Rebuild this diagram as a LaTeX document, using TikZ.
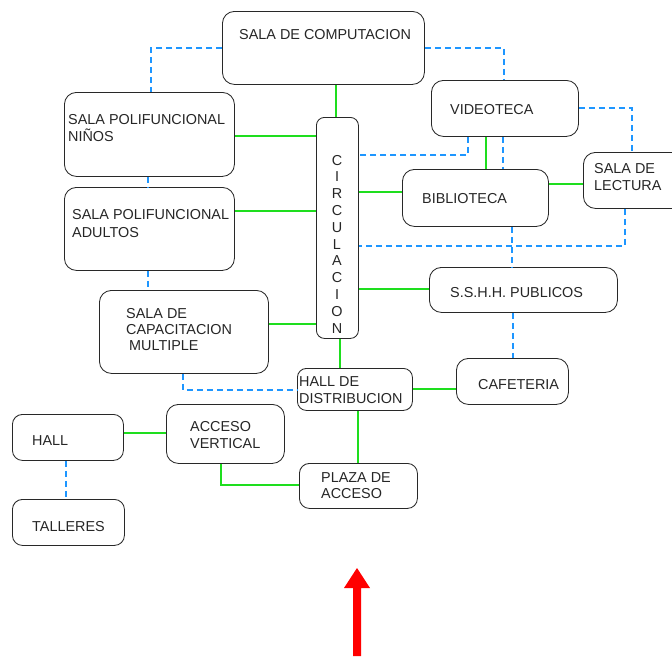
\documentclass[tikz,border=0pt]{standalone}
\usepackage{fontspec}
\setmainfont{Liberation Sans}
\definecolor{lgreen}{RGB}{30,222,30}
\definecolor{lblue}{RGB}{30,150,255}
\definecolor{bord}{RGB}{40,40,40}
\definecolor{ared}{RGB}{255,0,0}
\begin{document}
\begin{tikzpicture}[x=1pt,y=-1pt,
  box/.style={draw=bord,line width=0.85pt,rounded corners=12pt,anchor=north west,inner sep=0pt},
  lbl/.style={anchor=base west,inner sep=0pt,font=\fontsize{14.4}{16}\selectfont,text=black!85},
  clbl/.style={anchor=base,inner sep=0pt,font=\fontsize{14.4}{16}\selectfont,text=black!85},
  gl/.style={draw=lgreen,line width=2pt},
  bl/.style={draw=lblue,line width=2pt,dash pattern=on 6pt off 4pt}]
\useasboundingbox (0,0) rectangle (672,656);
% boxes
\node[box,minimum width=202pt,minimum height=73pt] (comp) at (222,11) {};
\node[box,minimum width=170pt,minimum height=84pt] (ninos) at (64,92) {};
\node[box,minimum width=170pt,minimum height=83pt] (adul) at (64,187) {};
\node[box,minimum width=169pt,minimum height=83pt] (capac) at (99,290) {};
\node[box,rounded corners=8pt,minimum width=42pt,minimum height=221pt] (circ) at (316,117) {};
\node[box,minimum width=147pt,minimum height=56pt] (video) at (431,80) {};
\node[box,minimum width=110pt,minimum height=56pt] (lect) at (583,152) {};
\node[box,minimum width=146pt,minimum height=57pt] (biblio) at (402,169) {};
\node[box,minimum width=188pt,minimum height=45pt] (sshh) at (429,267) {};
\node[box,minimum width=112pt,minimum height=46pt] (cafe) at (456,358) {};
\node[box,rounded corners=9pt,minimum width=115pt,minimum height=42pt] (halld) at (297,368) {};
\node[box,rounded corners=10pt,minimum width=111pt,minimum height=46pt] (hall) at (12,414) {};
\node[box,minimum width=118pt,minimum height=59pt] (acc) at (166,404) {};
\node[box,rounded corners=10pt,minimum width=118pt,minimum height=45pt] (plaza) at (299,463) {};
\node[box,rounded corners=10pt,minimum width=112pt,minimum height=46pt] (tall) at (12,499) {};
% texts
\node[lbl] (t1) at (239,39) {SALA DE COMPUTACION};
\node[lbl] (t2) at (68,124) {SALA POLIFUNCIONAL};
\node[lbl] (t3) at (68,141) {NIÑOS};
\node[lbl] (t4) at (72,219) {SALA POLIFUNCIONAL};
\node[lbl] (t5) at (72,237) {ADULTOS};
\node[lbl] (t6) at (126,318) {SALA DE};
\node[lbl] (t7) at (126,334) {CAPACITACION};
\node[lbl] (t8) at (129,350) {MULTIPLE};
\node[lbl] (t9) at (450,114) {VIDEOTECA};
\node[lbl] (t10) at (594,173) {SALA DE};
\node[lbl] (t11) at (594,190) {LECTURA};
\node[lbl] (t12) at (422,203) {BIBLIOTECA};
\node[lbl] (t13) at (450,297) {S.S.H.H. PUBLICOS};
\node[lbl] (t14) at (478,389) {CAFETERIA};
\node[lbl] (t15) at (299,386) {HALL DE};
\node[lbl] (t16) at (299,403) {DISTRIBUCION};
\node[lbl] (t17) at (32,445) {HALL};
\node[lbl] (t18) at (190,431) {ACCESO};
\node[lbl] (t19) at (190,448) {VERTICAL};
\node[lbl] (t20) at (321,482) {PLAZA DE};
\node[lbl] (t21) at (321,498) {ACCESO};
\node[lbl] (t22) at (32,531) {TALLERES};
\foreach \l [count=\i from 0] in {C,I,R,C,U,L,A,C,I,O,N}
  \node[clbl] (c\i) at (337,165+16.8*\i) {\l};
% green connectors
\draw[gl] (comp.south -| 336,0) -- (circ.north -| 336,0);
\draw[gl] (ninos.east |- 0,136) -- (circ.west |- 0,136);
\draw[gl] (adul.east |- 0,211) -- (circ.west |- 0,211);
\draw[gl] (capac.east |- 0,324) -- (circ.west |- 0,324);
\draw[gl] (circ.east |- 0,192) -- (biblio.west |- 0,192);
\draw[gl] (video.south -| 486,0) -- (biblio.north -| 486,0);
\draw[gl] (biblio.east |- 0,184) -- (lect.west |- 0,184);
\draw[gl] (circ.east |- 0,289) -- (sshh.west |- 0,289);
\draw[gl] (circ.south -| 340,0) -- (halld.north -| 340,0);
\draw[gl] (halld.east |- 0,389) -- (cafe.west |- 0,389);
\draw[gl] (halld.south -| 358,0) -- (plaza.north -| 358,0);
\draw[gl] (hall.east |- 0,433) -- (acc.west |- 0,433);
\draw[gl] (acc.south -| 221,0) |- (plaza.west |- 0,485);
% blue dashed connectors
\draw[bl] (comp.west |- 0,48) -| (ninos.north -| 151,0);
\draw[bl] (comp.east |- 0,48) -| (video.north -| 504,0);
\draw[bl] (ninos.south -| 148,0) -- (adul.north -| 148,0);
\draw[bl] (adul.south -| 148,0) -- (capac.north -| 148,0);
\draw[bl] (capac.south -| 183,0) |- (halld.west |- 0,390);
\draw[bl] (video.south -| 468,0) |- (circ.east |- 0,155);
\draw[bl] (video.south -| 503,0) -- (biblio.north -| 503,0);
\draw[bl] (video.east |- 0,108) -| (lect.north -| 632,0);
\draw[bl] (lect.south -| 625,0) |- (circ.east |- 0,246);
\draw[bl] (biblio.south -| 512,0) -- (sshh.north -| 512,0);
\draw[bl] (sshh.south -| 513,0) -- (cafe.north -| 513,0);
\draw[bl] (hall.south -| 66,0) -- (tall.north -| 66,0);
% red arrow
\fill[ared] (353,656) -- (353,588) -- (344,588) -- (357,568) -- (370,588) -- (361,588) -- (361,656) -- cycle;
\end{tikzpicture}
\end{document}
